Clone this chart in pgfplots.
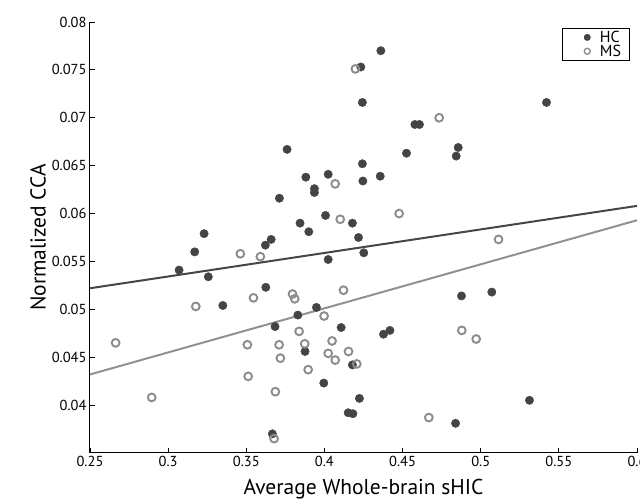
\documentclass[border=0pt]{standalone}
\usepackage{fontspec}
\setmainfont{PT Sans}
\usepackage{pgfplots}
\pgfplotsset{compat=1.18}
\definecolor{hcGray}{RGB}{68,68,68}
\definecolor{msGray}{RGB}{140,140,140}
\definecolor{hcLine}{RGB}{70,70,70}
\definecolor{msLine}{RGB}{145,145,145}

\begin{document}
\begin{tikzpicture}
\begin{axis}[name=ax, scale only axis, width=547pt, height=431pt,
  xmin=0.25, xmax=0.6, ymin=0.035, ymax=0.08,
  xtick={0.25,0.3,0.35,0.4,0.45,0.5,0.55,0.6},
  xticklabels={0.25,0.3,0.35,0.4,0.45,0.5,0.55,0.6},
  ytick={0.04,0.045,0.05,0.055,0.06,0.065,0.07,0.075,0.08},
  yticklabels={0.04,0.045,0.05,0.055,0.06,0.065,0.07,0.075,0.08},
  scaled y ticks=false, scaled x ticks=false,
  axis x line*=bottom, axis y line*=left,
  tick align=inside, major tick length=5pt,
  axis line style={black, line width=1pt}, tick style={black, line width=0.9pt},
  tick label style={font=\fontsize{14.5}{16}\selectfont},
  /pgf/number format/assume math mode=true,
  xlabel={Average Whole-brain sHIC}, ylabel={Normalized CCA},
  label style={font=\fontsize{21.5}{23}\selectfont},
  xlabel style={yshift=-5pt}, ylabel style={yshift=-1pt},
  legend style={at={(1,1)}, anchor=north east, xshift=-7pt, yshift=-6pt,
    draw=black, line width=0.9pt,
    font=\fontsize{16}{16}\selectfont, inner sep=0.5pt, row sep=-3pt,
    column sep=0pt, cells={anchor=west}},
  clip=false]
\addplot[only marks, mark=*, mark size=4.2pt, color=hcGray,
  legend image code/.code={\path (0,0) (27pt,0); \fill[hcGray] (24pt,0) circle (3pt);}] coordinates {
(0.4361,0.0770) (0.4233,0.0753) (0.4243,0.0716) (0.5421,0.0716)
(0.4579,0.0693) (0.4608,0.0693) (0.4856,0.0669) (0.4843,0.0660)
(0.3761,0.0667) (0.4525,0.0663) (0.4243,0.0652) (0.4024,0.0641)
(0.3881,0.0638) (0.4357,0.0639) (0.4246,0.0634) (0.3936,0.0626)
(0.3936,0.0622) (0.3712,0.0616) (0.4007,0.0598) (0.3844,0.0590)
(0.4179,0.0590) (0.3900,0.0581) (0.3230,0.0579) (0.4218,0.0575)
(0.3659,0.0573) (0.3622,0.0567) (0.3170,0.0560) (0.4252,0.0559)
(0.4024,0.0552) (0.3070,0.0541) (0.3257,0.0534) (0.3625,0.0523)
(0.5071,0.0518) (0.4877,0.0514) (0.3350,0.0504) (0.3949,0.0502)
(0.3830,0.0494) (0.3684,0.0482) (0.4107,0.0481) (0.4419,0.0478)
(0.4378,0.0474) (0.3876,0.0456) (0.4179,0.0442) (0.3996,0.0423)
(0.4224,0.0407) (0.5312,0.0405) (0.4152,0.0392) (0.4182,0.0391)
(0.4839,0.0381) (0.3667,0.0370)};
\addlegendentry{\kern7pt HC\kern6pt}
\addplot[only marks, mark=o, mark size=3.9pt, color=msGray,
  mark options={line width=1.9pt, fill=white},
  legend image code/.code={\path (0,0) (27pt,0); \draw[msGray, line width=1.3pt, fill=white] (24pt,0) circle (3pt);}] coordinates {
(0.4198,0.0751) (0.4734,0.0700) (0.4069,0.0631) (0.4478,0.0600)
(0.4101,0.0594) (0.5114,0.0573) (0.3462,0.0558) (0.3590,0.0555)
(0.4122,0.0520) (0.3796,0.0516) (0.3810,0.0511) (0.3546,0.0512)
(0.3177,0.0503) (0.3998,0.0493) (0.3838,0.0477) (0.4879,0.0478)
(0.4971,0.0469) (0.2664,0.0465) (0.3507,0.0463) (0.3710,0.0463)
(0.3874,0.0464) (0.4049,0.0467) (0.4024,0.0454) (0.4154,0.0456)
(0.3718,0.0449) (0.4069,0.0447) (0.4207,0.0443) (0.3896,0.0437)
(0.3512,0.0430) (0.3686,0.0414) (0.2895,0.0408) (0.4668,0.0387)
(0.3678,0.0365)};
\addlegendentry{\kern7pt MS\kern6pt}
\addplot[hcLine, line width=2pt, forget plot] coordinates {(0.25,0.0522) (0.6,0.0608)};
\addplot[msLine, line width=2pt, forget plot] coordinates {(0.25,0.0432) (0.6,0.0593)};
\end{axis}
\pgfresetboundingbox
\path[use as bounding box] ([shift={(-90pt,-49pt)}]ax.south west) rectangle ([shift={(3pt,22pt)}]ax.north east);
\end{tikzpicture}
\end{document}
